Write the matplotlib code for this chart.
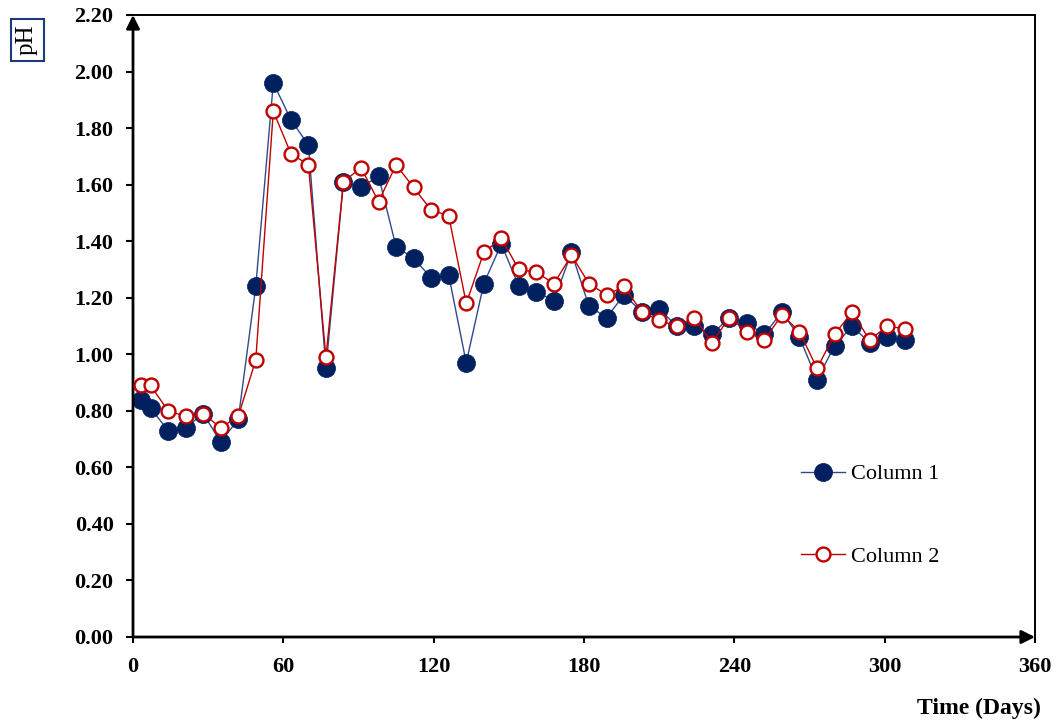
import matplotlib
matplotlib.use("Agg")
import matplotlib.pyplot as plt

# Sampling days (shared by both columns)
days = [3, 7, 14, 21, 28, 35, 42, 49, 56, 63, 70, 77, 84, 91, 98, 105, 112,
        119, 126, 133, 140, 147, 154, 161, 168, 175, 182, 189, 196, 203, 210,
        217, 224, 231, 238, 245, 252, 259, 266, 273, 280, 287, 294, 301, 308]

# Effluent pH, column 1
col1_ph = [0.84, 0.81, 0.73, 0.74, 0.79, 0.69, 0.77, 1.24, 1.96, 1.83, 1.74,
           0.95, 1.61, 1.59, 1.63, 1.38, 1.34, 1.27, 1.28, 0.97, 1.25, 1.39,
           1.24, 1.22, 1.19, 1.36, 1.17, 1.13, 1.21, 1.15, 1.16, 1.10, 1.10,
           1.07, 1.13, 1.11, 1.07, 1.15, 1.06, 0.91, 1.03, 1.10, 1.04, 1.06,
           1.05]

# Effluent pH, column 2
col2_ph = [0.89, 0.89, 0.80, 0.78, 0.79, 0.74, 0.78, 0.98, 1.86, 1.71, 1.67,
           0.99, 1.61, 1.66, 1.54, 1.67, 1.59, 1.51, 1.49, 1.18, 1.36, 1.41,
           1.30, 1.29, 1.25, 1.35, 1.25, 1.21, 1.24, 1.15, 1.12, 1.10, 1.13,
           1.04, 1.13, 1.08, 1.05, 1.14, 1.08, 0.95, 1.07, 1.15, 1.05, 1.10,
           1.09]

series_labels = ["Column 1", "Column 2"]
x_ticks = [0, 60, 120, 180, 240, 300, 360]
y_ticks = [0.0, 0.2, 0.4, 0.6, 0.8, 1.0, 1.2, 1.4, 1.6, 1.8, 2.0, 2.2]

plt.rcParams['font.family'] = ['Liberation Serif', 'DejaVu Serif']

W, H = 1059, 726
fig = plt.figure(figsize=(W / 100, H / 100), dpi=100)
fig.patch.set_facecolor('white')
ax = fig.add_axes([133 / W, 89 / H, 902 / W, 622 / H])
ax.set_xlim(0, 360)
ax.set_ylim(0, 2.2)

navy = '#002060'
red = '#C00000'

ax.plot(days, col1_ph, color='#2F4B8A', lw=1.0, marker='o', ms=13,
        mfc=navy, mec=navy, mew=0.5, label=series_labels[0], zorder=3,
        clip_on=False)
ax.plot(days, col2_ph, color=red, lw=1.0, marker='o', ms=10,
        mfc='white', mec=red, mew=1.7, label=series_labels[1], zorder=4,
        clip_on=False)

# Frame: thin top/right, arrowed left/bottom axes
for side in ('top', 'right'):
    ax.spines[side].set_linewidth(1.4)
    ax.spines[side].set_color('black')
for side in ('left', 'bottom'):
    ax.spines[side].set_visible(False)

arrow_kw = dict(arrowstyle='-|>,head_length=0.8,head_width=0.4', color='black',
                lw=2.0, shrinkA=0, shrinkB=0, mutation_scale=10)
ax.annotate('', xy=(0, 1), xytext=(0, 0), xycoords='axes fraction',
            textcoords='axes fraction', arrowprops=arrow_kw,
            annotation_clip=False)
ax.annotate('', xy=(1, 0), xytext=(0, 0), xycoords='axes fraction',
            textcoords='axes fraction', arrowprops=arrow_kw,
            annotation_clip=False)

ax.set_xticks(x_ticks, labels=[str(v) for v in x_ticks])
ax.set_yticks(y_ticks, labels=[f'{v:.2f}' for v in y_ticks])
ax.tick_params(axis='both', direction='out', width=1.5, labelsize=16,
               top=False, right=False)
ax.tick_params(axis='y', length=5, pad=9)
ax.tick_params(axis='x', length=4.5, pad=10)
for lbl in ax.get_xticklabels() + ax.get_yticklabels():
    lbl.set_fontweight('bold')

fig.text(1041 / W, 1 - 708 / H, 'Time (Days)', ha='right', va='center',
         fontsize=17, fontweight='bold')
fig.text(27 / W, 1 - 40 / H, 'pH', rotation=90, ha='center', va='center',
         fontsize=18,
         bbox=dict(boxstyle='square,pad=0.22', fc='white', ec='#1F3A7A',
                   lw=1.5))

ax.legend(loc='center left', bbox_to_anchor=(801 / W, 1 - 515.5 / H),
          bbox_transform=fig.transFigure, frameon=False, fontsize=16,
          handlelength=2.0, handletextpad=0.25, labelspacing=2.8,
          borderpad=0, borderaxespad=0)

fig.savefig('out.png', dpi=100)
